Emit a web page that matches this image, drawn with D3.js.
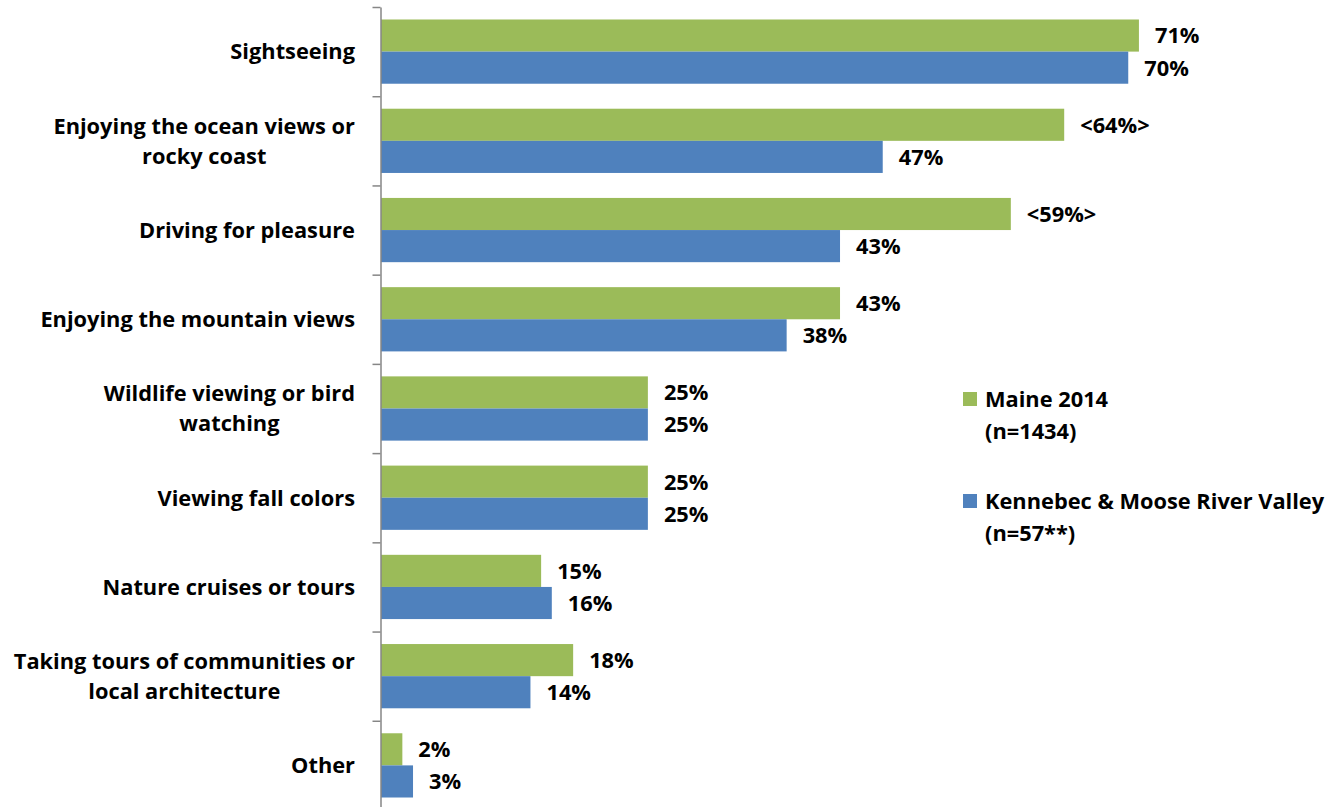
<!DOCTYPE html>
<html>
<head>
<meta charset="utf-8">
<script src="https://cdn.jsdelivr.net/npm/d3@7"></script>
<style>
  html, body { margin: 0; padding: 0; background: #ffffff; }
  svg { display: block; }
  text { font-family: "Open Sans", Lato, sans-serif; font-weight: bold; fill: #000; }
</style>
</head>
<body>
<svg id="chart" width="1342" height="807"></svg>
<script>
// Activities while visiting, share of respondents
const categories = [
  ["Sightseeing"],
  ["Enjoying the ocean views or", "rocky coast"],
  ["Driving for pleasure"],
  ["Enjoying the mountain views"],
  ["Wildlife viewing or bird", "watching"],
  ["Viewing fall colors"],
  ["Nature cruises or tours"],
  ["Taking tours of communities or", "local architecture"],
  ["Other"]
];
const maineValues = [71, 64, 59, 43, 25, 25, 15, 18, 2];
const maineLabels = ["71%", "<64%>", "<59%>", "43%", "25%", "25%", "15%", "18%", "2%"];
const regionValues = [70, 47, 43, 38, 25, 25, 16, 14, 3];
const regionLabels = ["70%", "47%", "43%", "38%", "25%", "25%", "16%", "14%", "3%"];
const seriesNames = [
  ["Maine 2014", "(n=1434)"],
  ["Kennebec & Moose River Valley", "(n=57**)"]
];
const seriesColors = ["#9BBB59", "#4F81BD"];

const svg = d3.select("#chart");
const axisX = 381;
const fontSize = 21.8;

const x = d3.scaleLinear().domain([0, 80]).range([axisX, axisX + 854]);
const y = d3.scaleBand()
  .domain(d3.range(categories.length))
  .range([7, 810])
  .paddingInner(0.28)
  .paddingOuter(0.14);
const sub = d3.scaleBand().domain([0, 1]).range([0, y.bandwidth()]);

const series = [
  { values: maineValues, labels: maineLabels },
  { values: regionValues, labels: regionLabels }
];

// Bars and value labels
series.forEach((s, si) => {
  const g = svg.append("g");
  g.selectAll("rect")
    .data(s.values)
    .join("rect")
    .attr("x", x(0))
    .attr("y", (d, i) => y(i) + sub(si))
    .attr("width", d => x(d) - x(0))
    .attr("height", sub.bandwidth())
    .attr("fill", seriesColors[si]);
  g.selectAll("text")
    .data(s.values)
    .join("text")
    .attr("x", d => x(d) + 16)
    .attr("y", (d, i) => y(i) + sub(si) + sub.bandwidth() / 2)
    .attr("dy", "0.36em")
    .attr("font-size", fontSize)
    .text((d, i) => s.labels[i]);
});

// Category axis
const yAxis = d3.axisLeft(d3.scaleLinear().domain([0, categories.length]).range([7, 810]))
  .ticks(categories.length)
  .tickFormat("")
  .tickSize(8)
  .tickSizeOuter(0);
const axisG = svg.append("g").attr("transform", `translate(${axisX - 0.5},0)`).call(yAxis);
axisG.selectAll("path, line").attr("stroke", "#868686").attr("stroke-width", 1.5);

// Category labels, each block centred on its widest line and right-aligned to the axis
const labelRight = 355;
const lineGap = 30;
categories.forEach((lines, i) => {
  const cy = y(i) + y.bandwidth() / 2;
  const g = svg.append("g");
  const texts = lines.map((ln, li) => g.append("text")
    .attr("font-size", fontSize)
    .attr("y", cy + (li - (lines.length - 1) / 2) * lineGap)
    .attr("dy", "0.36em")
    .text(ln));
  const widths = texts.map(t => t.node().getComputedTextLength());
  const maxW = d3.max(widths);
  const center = labelRight - maxW / 2;
  texts.forEach(t => t.attr("x", center).attr("text-anchor", "middle"));
});

// Legend
const legendTops = [392, 494];
seriesNames.forEach((lines, si) => {
  svg.append("rect")
    .attr("x", 963).attr("y", legendTops[si])
    .attr("width", 14).attr("height", 14)
    .attr("fill", seriesColors[si]);
  lines.forEach((ln, li) => {
    svg.append("text")
      .attr("x", 985)
      .attr("y", legendTops[si] + 15 + li * 32)
      .attr("font-size", fontSize)
      .text(ln);
  });
});
</script>
</body>
</html>
